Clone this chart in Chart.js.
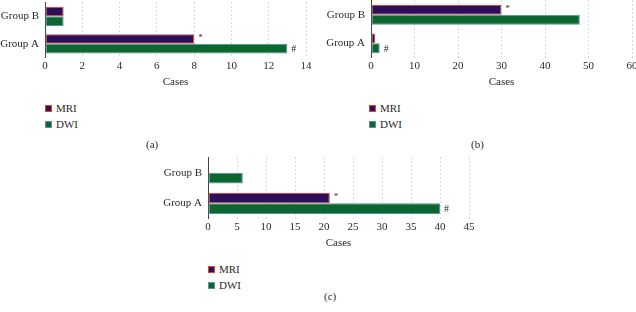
<!DOCTYPE html>
<html>
<head>
<meta charset="utf-8">
<script src="https://cdn.jsdelivr.net/npm/chart.js@4.4.1/dist/chart.umd.min.js"></script>
<style>
  body { margin: 0; width: 636px; height: 312px; background: #fff; overflow: hidden; position: relative; font-family: "Liberation Serif", serif; color: #2a2a2a; }
  canvas { position: absolute; }
  .legend { position: absolute; font-size: 11px; line-height: 16px; }
  .legend div { display: flex; align-items: center; }
  .sw { width: 5px; height: 5px; margin-right: 4px; display: inline-block; }
  .cap { position: absolute; font-size: 11px; }
</style>
</head>
<body>
<canvas id="chartA" width="319" height="99" style="left:-5px;top:-10px"></canvas>
<canvas id="chartB" width="319" height="101" style="left:321px;top:-12px"></canvas>
<canvas id="chartC" width="319" height="105" style="left:158px;top:145px"></canvas>

<div class="legend" style="left:45px;top:100px">
  <div><span class="sw" style="background:#2c0e5a;border:1px solid #e0442c"></span>MRI</div>
  <div><span class="sw" style="background:#0b6630;border:1px solid #5b8fa8"></span>DWI</div>
</div>
<div class="legend" style="left:369px;top:100px">
  <div><span class="sw" style="background:#2c0e5a;border:1px solid #e0442c"></span>MRI</div>
  <div><span class="sw" style="background:#0b6630;border:1px solid #5b8fa8"></span>DWI</div>
</div>
<div class="legend" style="left:208px;top:261px">
  <div><span class="sw" style="background:#2c0e5a;border:1px solid #e0442c"></span>MRI</div>
  <div><span class="sw" style="background:#0b6630;border:1px solid #5b8fa8"></span>DWI</div>
</div>
<div class="cap" style="left:146px;top:138px">(a)</div>
<div class="cap" style="left:471px;top:138px">(b)</div>
<div class="cap" style="left:324px;top:290px">(c)</div>

<script>
const groups = ["Group B", "Group A"];

const aMri = [1, 8];
const aDwi = [1, 13];
const aMriMarks = ["", "*"];
const aDwiMarks = ["", "#"];

const bMri = [30, 1];
const bDwi = [48, 2];
const bMriMarks = ["*", ""];
const bDwiMarks = ["", "#"];

const cMri = [0, 21];
const cDwi = [6, 40];
const cMriMarks = ["", "*"];
const cDwiMarks = ["", "#"];

const aMax = 14, aStep = 2;
const bMax = 60, bStep = 10;
const cMax = 45, cStep = 5;

const font = { family: "'Liberation Serif', serif", size: 11 };

// draws the * and # signs right after the bar ends
const marksPlugin = {
  id: "marks",
  afterDatasetsDraw(chart) {
    const ctx = chart.ctx;
    ctx.save();
    ctx.fillStyle = "#2a2a2a";
    ctx.textBaseline = "middle";
    ctx.textAlign = "left";
    chart.data.datasets.forEach((ds, i) => {
      const meta = chart.getDatasetMeta(i);
      meta.data.forEach((bar, j) => {
        const m = ds.marks[j];
        if (!m) return;
        ctx.font = (m === "*" ? "9px" : "10px") + " 'Liberation Serif', serif";
        ctx.fillText(m, bar.x + 4, bar.y + (m === "*" ? -1 : 1));
      });
    });
    ctx.restore();
  }
};

function makeChart(id, mri, dwi, mriMarks, dwiMarks, max, step) {
  const ctx = document.getElementById(id).getContext("2d");
  return new Chart(ctx, {
    type: "bar",
    data: {
      labels: groups,
      datasets: [
        {
          label: "MRI",
          data: mri,
          marks: mriMarks,
          backgroundColor: "#2c0e5a",
          borderColor: "#e0442c",
          borderWidth: 1,
          borderSkipped: false,
        },
        {
          label: "DWI",
          data: dwi,
          marks: dwiMarks,
          backgroundColor: "#0b6630",
          borderColor: "#5b8fa8",
          borderWidth: 1,
          borderSkipped: false,
        },
      ],
    },
    options: {
      indexAxis: "y",
      responsive: false,
      animation: false,
      categoryPercentage: 0.7,
      barPercentage: 1.0,
      layout: { padding: { top: 0, right: 8, left: 0, bottom: 0 } },
      plugins: { legend: { display: false }, tooltip: { enabled: false } },
      scales: {
        x: {
          min: 0,
          max: max,
          ticks: { stepSize: step, color: "#2a2a2a", font: font, padding: 2, maxRotation: 0 },
          grid: { color: "#b5b5b5", drawTicks: false, lineWidth: 1 },
          border: { display: false, dash: [1, 3] },
          title: { display: true, text: "Cases", color: "#2a2a2a", font: font, padding: { top: 1, bottom: 0 } },
        },
        y: {
          ticks: { color: "#2a2a2a", font: font, padding: 6 },
          grid: { display: false, drawTicks: false },
          border: { display: true, color: "#444", width: 1 },
          afterFit: (scale) => { scale.width = 50; },
        },
      },
    },
    plugins: [marksPlugin],
  });
}

const chartA = makeChart("chartA", aMri, aDwi, aMriMarks, aDwiMarks, aMax, aStep);
const chartB = makeChart("chartB", bMri, bDwi, bMriMarks, bDwiMarks, bMax, bStep);
const chartC = makeChart("chartC", cMri, cDwi, cMriMarks, cDwiMarks, cMax, cStep);
</script>
</body>
</html>
